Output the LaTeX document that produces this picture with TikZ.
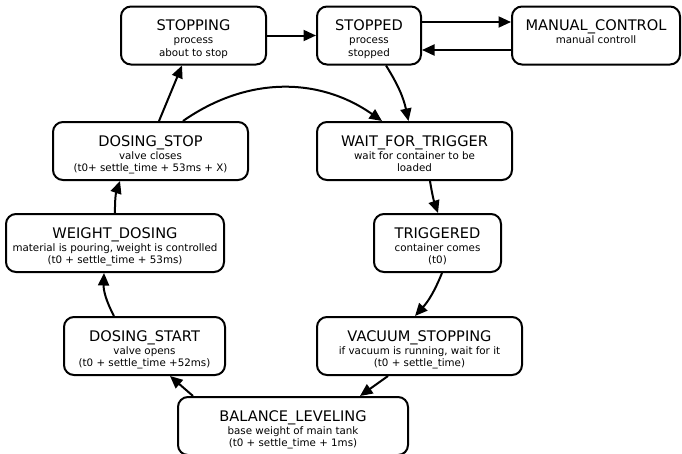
\documentclass[tikz,border=0pt]{standalone}
\usepackage{fontspec}
\setmainfont{DejaVu Sans}
\usetikzlibrary{arrows.meta}
\newcommand{\statetitle}[1]{\rule{0pt}{20pt}{\fontsize{14.6}{16}\selectfont #1}}
\newcommand{\lastline}{\rule[-4pt]{0pt}{4pt}}

\begin{document}
\begin{tikzpicture}[
    x=1pt, y=-1pt,
    state/.style={rectangle, draw, line width=2pt, rounded corners=10pt, align=center, minimum height=58pt, inner sep=0pt, font=\fontsize{10.3}{12.6}\selectfont},
    arrow/.style={-{Triangle[length=12.5pt, width=11pt]}, line width=2pt}
]
\useasboundingbox (0,0) rectangle (682,453);
\node[state, minimum width=145pt] (stopping) at (193.5,35.5) {\statetitle{STOPPING}\\process\\about to stop\lastline};
\node[state, minimum width=104pt] (stopped) at (369,35.5) {\statetitle{STOPPED}\\process\\stopped\lastline};
\node[state, minimum width=168pt] (manual) at (596,35.5) {\statetitle{MANUAL\_CONTROL}\\manual controll\\\lastline};
\node[state, minimum width=195pt] (dosingstop) at (150.5,151) {\statetitle{DOSING\_STOP}\\valve closes\\(t0+ settle\_time + 53ms + X)\lastline};
\node[state, minimum width=195pt] (waittrigger) at (414.5,151) {\statetitle{WAIT\_FOR\_TRIGGER}\\wait for container to be\\loaded\lastline};
\node[state, minimum width=218pt] (weightdosing) at (115,243) {\statetitle{WEIGHT\_DOSING}\\material is pouring, weight is controlled\\(t0 + settle\_time + 53ms)\lastline};
\node[state, minimum width=127pt] (triggered) at (437.5,243) {\statetitle{TRIGGERED}\\container comes\\(t0)\lastline};
\node[state, minimum width=161pt] (dosingstart) at (144.5,346) {\statetitle{DOSING\_START}\\valve opens\\(t0 + settle\_time +52ms)\lastline};
\node[state, minimum width=205pt] (vacuum) at (419.5,346) {\statetitle{VACUUM\_STOPPING}\\if vacuum is running, wait for it\\(t0 + settle\_time)\lastline};
\node[state, minimum width=230pt] (balance) at (293,426) {\statetitle{BALANCE\_LEVELING}\\base weight of main tank\\(t0 + settle\_time + 1ms)\lastline};
\draw[arrow] (stopping) -- (stopped);
\draw[arrow] ([yshift=13.5pt]stopped.east) -- ([yshift=13.5pt]manual.west);
\draw[arrow] ([yshift=-14.5pt]manual.west) -- ([yshift=-14.5pt]stopped.east);
\draw[arrow] ([xshift=17pt]stopped.south) to[bend left=10] ([xshift=-6pt]waittrigger.north);
\draw[arrow] ([xshift=8.5pt]dosingstop.north) -- ([xshift=-11.5pt]stopping.south);
\draw[arrow] ([xshift=32.5pt]dosingstop.north) to[bend left=35] ([xshift=-32.5pt]waittrigger.north);
\draw[arrow] ([xshift=15.5pt]waittrigger.south) to[bend right=5] ([xshift=0.5pt]triggered.north);
\draw[arrow] ([xshift=4.5pt]triggered.south) to[bend left=10] ([xshift=-4.5pt]vacuum.north);
\draw[arrow] ([xshift=-31.5pt]vacuum.south) -- ([xshift=67pt]balance.north);
\draw[arrow] ([xshift=-100pt]balance.north) -- ([xshift=25.5pt]dosingstart.south);
\draw[arrow] ([xshift=-30.5pt]dosingstart.north) to[bend left=15] ([xshift=-11pt]weightdosing.south);
\draw[arrow] (weightdosing.north) to[bend left=10] ([xshift=-30.5pt]dosingstop.south);
\end{tikzpicture}
\end{document}
